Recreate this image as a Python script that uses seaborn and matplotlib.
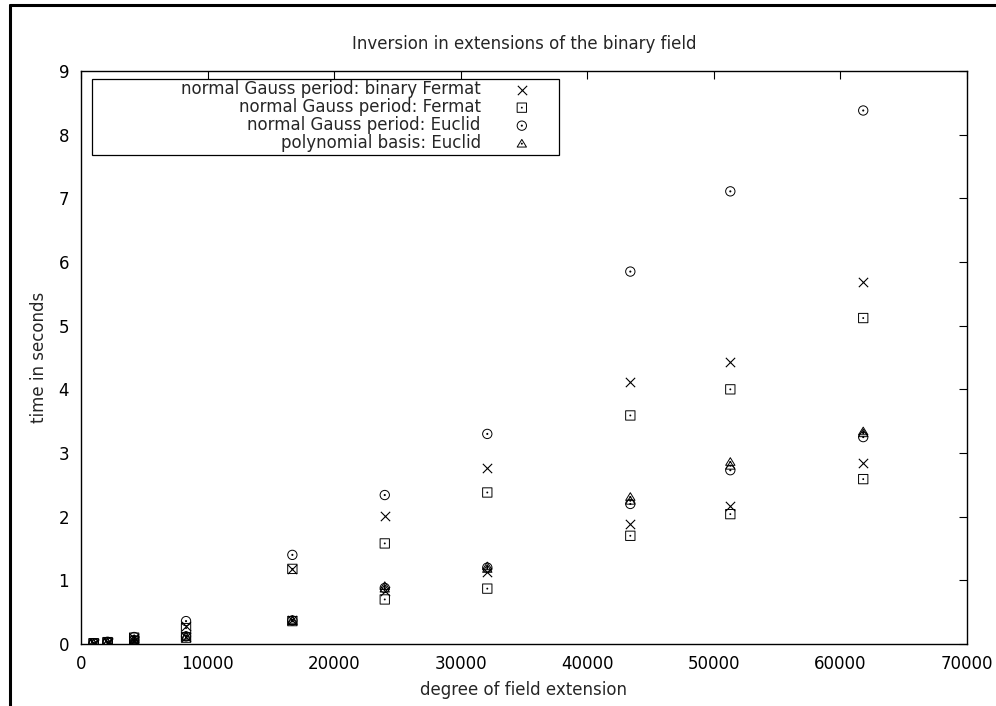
import numpy as np
import pandas as pd
import matplotlib
matplotlib.use("Agg")
import matplotlib.pyplot as plt
from matplotlib.path import Path
from matplotlib.lines import Line2D
from matplotlib.patches import Rectangle
import seaborn as sns

# degrees of the field extensions (x) - each one measured twice (two runs)
degree = [1000, 2100, 4200, 8300, 16700, 24000, 32100, 43400, 51300, 61800]

# normal Gauss period: binary Fermat
bin_fermat_hi = [0.012, 0.032, 0.10, 0.28, 1.18, 2.01, 2.77, 4.12, 4.43, 5.68]
bin_fermat_lo = [0.008, 0.020, 0.05, 0.11, 0.37, 0.83, 1.13, 1.88, 2.17, 2.85]
# normal Gauss period: Fermat
fermat_hi = [0.012, 0.030, 0.10, 0.25, 1.18, 1.58, 2.38, 3.59, 4.00, 5.12]
fermat_lo = [0.008, 0.020, 0.05, 0.10, 0.36, 0.70, 0.87, 1.70, 2.04, 2.59]
# normal Gauss period: Euclid
euclid_hi = [0.014, 0.035, 0.11, 0.36, 1.40, 2.34, 3.30, 5.85, 7.11, 8.38]
euclid_lo = [0.008, 0.022, 0.06, 0.12, 0.37, 0.88, 1.20, 2.20, 2.73, 3.25]
# polynomial basis: Euclid
poly_hi = [0.010, 0.025, 0.08, 0.13, 0.38, 0.91, 1.22, 2.31, 2.86, 3.34]
poly_lo = [0.008, 0.020, 0.06, 0.11, 0.36, 0.87, 1.18, 2.25, 2.80, 3.31]

labels = ["normal Gauss period: binary Fermat",
          "normal Gauss period: Fermat",
          "normal Gauss period: Euclid",
          "polynomial basis: Euclid"]


def dotted(outer, r=0.12):
    # gnuplot-like open marker with a small dot in the middle
    return Path.make_compound_path(outer, Path.circle(radius=r))


square = Path([(-1, -1), (1, -1), (1, 1), (-1, 1), (-1, -1)],
              [Path.MOVETO, Path.LINETO, Path.LINETO, Path.LINETO, Path.CLOSEPOLY])
tri = Path([(0, 1.0), (-1.1, -0.8), (1.1, -0.8), (0, 1.0)],
           [Path.MOVETO, Path.LINETO, Path.LINETO, Path.CLOSEPOLY])
markers = ["x", dotted(square, 0.1), dotted(Path.unit_circle(), 0.12), dotted(tri, 0.12)]

series = [(bin_fermat_hi, bin_fermat_lo), (fermat_hi, fermat_lo),
          (euclid_hi, euclid_lo), (poly_hi, poly_lo)]

sns.set_style("white")
plt.rcParams["font.family"] = ["DejaVu Sans"]
plt.rcParams["font.size"] = 12

fig = plt.figure(figsize=(9.96, 7.06), dpi=100)
ax = fig.add_axes([0.0813, 0.0878, 0.8896, 0.8116])

for (hi, lo), lab, m in zip(series, labels, markers):
    df = pd.DataFrame({"degree": degree + degree, "time": hi + lo})
    if m == "x":
        sns.scatterplot(data=df, x="degree", y="time", marker="x", color="black",
                        s=45, linewidth=0.8, label=lab, ax=ax)
    else:
        sns.scatterplot(data=df, x="degree", y="time", marker=m, facecolor="none",
                        edgecolor="black", s=45, linewidth=0.7, label=lab, ax=ax)

ax.set_xlim(0, 70000)
ax.set_ylim(0, 9)
ax.set_xticks(range(0, 70001, 10000))
ax.set_yticks(range(0, 10))
ax.tick_params(direction="in", length=6, width=0.8, top=True, right=True,
               labelsize=12, colors="black")
ax.tick_params(axis="x", pad=8)
ax.tick_params(axis="y", pad=8.5)
for sp in ax.spines.values():
    sp.set_color("black")
    sp.set_linewidth(1.0)

ax.set_title("Inversion in extensions of the binary field", fontsize=12, pad=16)
ax.set_xlabel("degree of field extension", fontsize=12)
ax.set_ylabel("time in seconds", fontsize=12)
ax.xaxis.set_label_coords(0.5, -0.064)
ax.yaxis.set_label_coords(-0.037, 0.5)

# gnuplot key: right-aligned text, symbol on the right, fixed-width box
leg = ax.legend(loc="upper right", bbox_to_anchor=(0.522, 0.993), borderaxespad=0,
                markerfirst=False, frameon=False, fontsize=12, labelspacing=0.0,
                handlelength=2.0, handletextpad=1.46, borderpad=0.3)
ax.add_patch(Rectangle((0.0124, 0.8534), 0.5271, 0.1326, transform=ax.transAxes,
                       fill=False, edgecolor="black", linewidth=0.9, zorder=5))

# outer frame remnants of the original page (left and top edges)
fig.add_artist(Line2D([0.0105, 0.0105], [0, 0.993], transform=fig.transFigure,
                      color="black", linewidth=2.2))
fig.add_artist(Line2D([0.0105, 1.0], [0.993, 0.993], transform=fig.transFigure,
                      color="black", linewidth=2.2))

fig.savefig("out.png", dpi=100)
